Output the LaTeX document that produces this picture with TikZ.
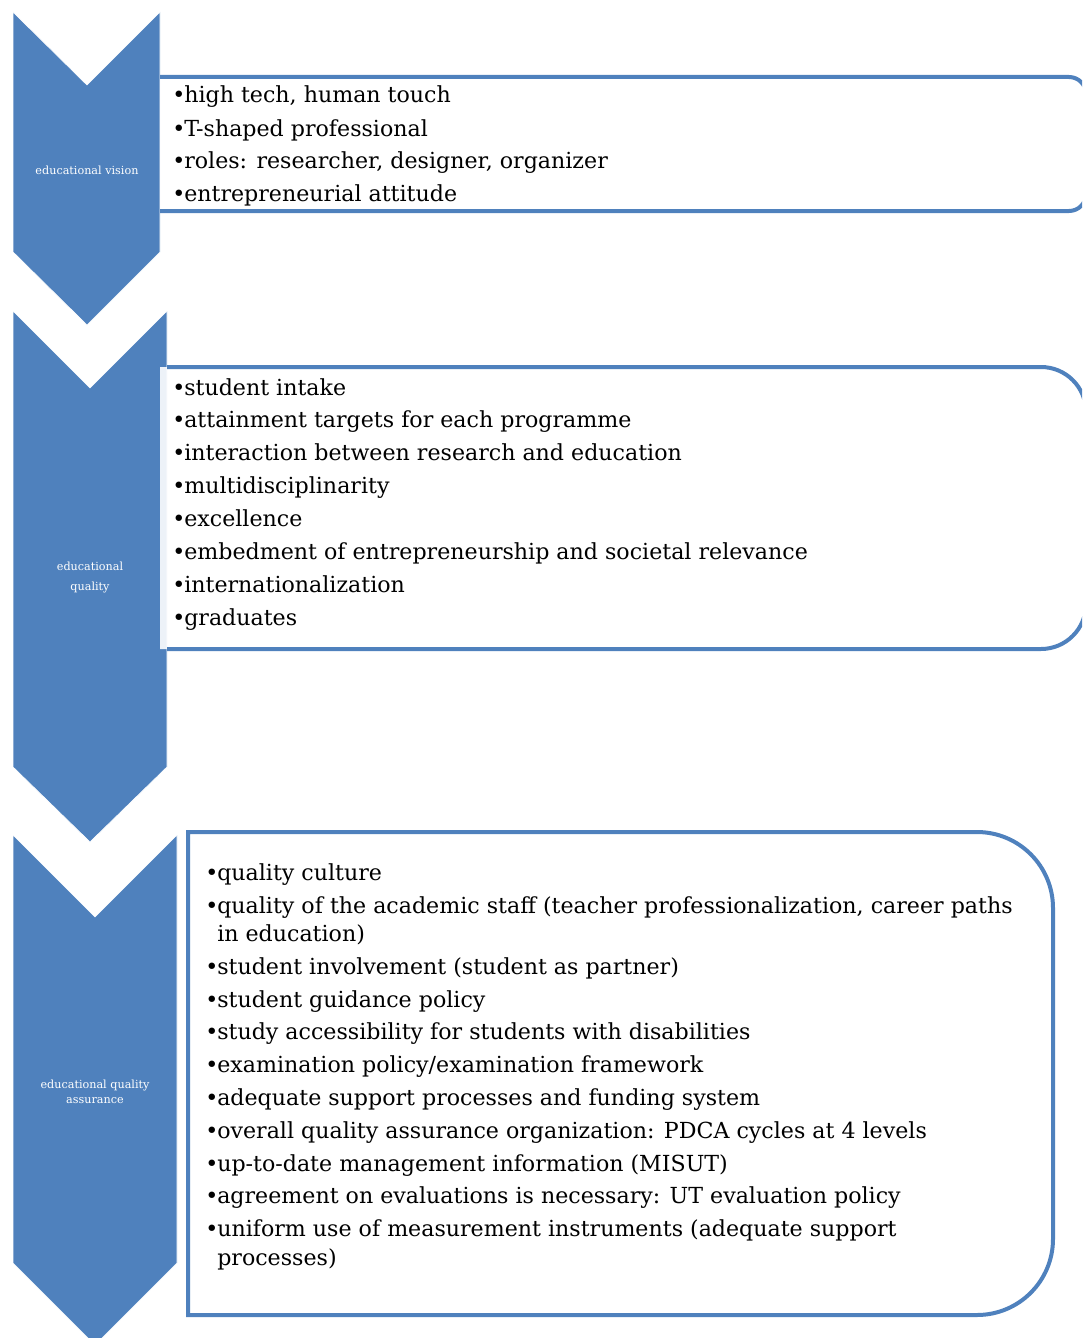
\documentclass[tikz,border=0pt]{standalone}
\usepackage{fontspec}
\setmainfont{DejaVu Serif}
\definecolor{acc}{HTML}{4F81BD}
\newcommand{\bul}{\makebox[9pt][l]{•}}
\begin{document}
\begin{tikzpicture}[x=0.75pt,y=-0.75pt,
  chev/.style={fill=acc,draw=white,line width=0.5pt},
  boxline/.style={draw=acc,line width=3pt},
  boxfill/.style={fill=white,fill opacity=0.9},
  lbl/.style={text=white,font=\fontsize{8.4pt}{11.25pt}\selectfont,align=center,inner sep=0pt},
  itm/.style={anchor=base west,inner sep=0pt,font=\fontsize{16.6pt}{20pt}\selectfont}]
\useasboundingbox (0,0) rectangle (1082,1338);
\path[clip] (0,0) rectangle (1082,1338);
% chevrons
\path[chev] (13,12) -- (87,85) -- (160,12) -- (160,252) -- (87,325) -- (13,252) -- cycle;
\path[chev] (13,311) -- (90,388) -- (167,311) -- (167,767) -- (90,842) -- (13,767) -- cycle;
\path[chev] (13,835) -- (95,917) -- (177,835) -- (177,1263) -- (95,1345) -- (13,1263) -- cycle;
% box 1
\path[boxfill] (160,77) -- (1069,77) arc[start angle=90,end angle=0,radius=12.75pt] -- (1086,194) arc[start angle=0,end angle=-90,radius=12.75pt] -- (160,211) -- cycle;
\path[boxline] (160,77) -- (1069,77) arc[start angle=90,end angle=0,radius=12.75pt] -- (1086,194) arc[start angle=0,end angle=-90,radius=12.75pt] -- (160,211);
% box 2
\path[boxfill] (160,367) -- (1041,367) arc[start angle=90,end angle=0,radius=33.75pt] -- (1086,604) arc[start angle=0,end angle=-90,radius=33.75pt] -- (160,649) -- cycle;
\path[boxline] (167,367) -- (1041,367) arc[start angle=90,end angle=0,radius=33.75pt] -- (1086,604) arc[start angle=0,end angle=-90,radius=33.75pt] -- (167,649);
% box 3
\path[boxfill,boxline] (188,832) -- (977,832) arc[start angle=90,end angle=0,radius=57pt] -- (1053,1239) arc[start angle=0,end angle=-90,radius=57pt] -- (188,1315) -- cycle;
% chevron labels
\node[lbl] (c1) at (87,170) {educational vision};
\node[lbl,font=\fontsize{8.4pt}{15pt}\selectfont] (c2) at (90,577) {educational\\quality};
\node[lbl] (c3) at (95,1092) {educational quality\\assurance};
% box 1 text
\node[itm] (v1) at (172,103) {\bul high tech, human touch};
\node[itm] (v2) at (172,136) {\bul T-shaped professional};
\node[itm] (v3) at (172,168.5) {\bul roles: researcher, designer, organizer};
\node[itm] (v4) at (172,201) {\bul entrepreneurial attitude};
% box 2 text
\node[itm] (q1) at (172,395) {\bul student intake};
\node[itm] (q2) at (172,427.9) {\bul attainment targets for each programme};
\node[itm] (q3) at (172,460.7) {\bul interaction between research and education};
\node[itm] (q4) at (172,493.6) {\bul multidisciplinarity};
\node[itm] (q5) at (172,526.4) {\bul excellence};
\node[itm] (q6) at (172,559.3) {\bul embedment of entrepreneurship and societal relevance};
\node[itm] (q7) at (172,592.1) {\bul internationalization};
\node[itm] (q8) at (172,625) {\bul graduates};
% box 3 text
\node[itm] (a1) at (205,880) {\bul quality culture};
\node[itm] (a2) at (205,913) {\bul quality of the academic staff (teacher professionalization, career paths};
\node[itm] (a2b) at (217,941) {in education)};
\node[itm] (a3) at (205,974) {\bul student involvement (student as partner)};
\node[itm] (a4) at (205,1007) {\bul student guidance policy};
\node[itm] (a5) at (205,1039) {\bul study accessibility for students with disabilities};
\node[itm] (a6) at (205,1072) {\bul examination policy/examination framework};
\node[itm] (a7) at (205,1105) {\bul adequate support processes and funding system};
\node[itm] (a8) at (205,1138) {\bul overall quality assurance organization: PDCA cycles at 4 levels};
\node[itm] (a9) at (205,1171) {\bul up-to-date management information (MISUT)};
\node[itm] (a10) at (205,1203) {\bul agreement on evaluations is necessary: UT evaluation policy};
\node[itm] (a11) at (205,1236) {\bul uniform use of measurement instruments (adequate support};
\node[itm] (a11b) at (217,1265) {processes)};
\end{tikzpicture}
\end{document}
